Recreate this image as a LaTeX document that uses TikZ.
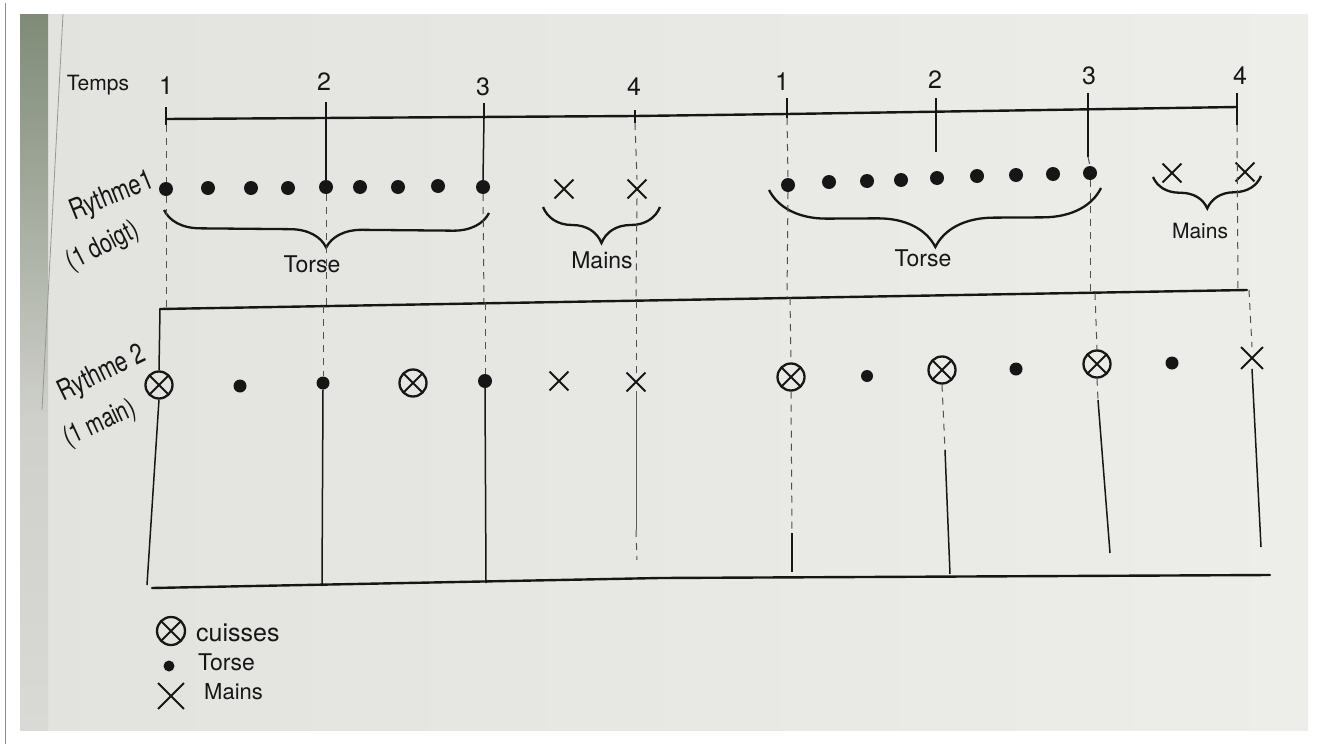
\documentclass[tikz,border=0pt]{standalone}
\usepackage{fontspec}
\setmainfont{TeX Gyre Heros}
\usetikzlibrary{decorations.pathreplacing,shapes.misc}
\definecolor{ink}{HTML}{161616}
\definecolor{paperL}{HTML}{E2E2DE}
\definecolor{paperR}{HTML}{EDEDEA}
\definecolor{strip}{HTML}{7F8B77}
\definecolor{stripB}{HTML}{CFD0CB}
\definecolor{frameline}{HTML}{8C8C8C}
\begin{document}
\begin{tikzpicture}[x=1pt,y=-1pt,
  axis/.style={draw=ink, line width=2.4pt, line cap=round},
  tickmark/.style={draw=ink, line width=2.2pt},
  solidguide/.style={draw=ink, line width=1.5pt},
  dashguide/.style={draw=ink!75, line width=1pt, dash pattern=on 7pt off 6pt},
  tdot/.style={circle, fill=ink, inner sep=0pt, minimum size=#1},
  tdot/.default=14pt,
  hand/.style={cross out, draw=ink, line width=1.9pt, inner sep=0pt, minimum size=#1},
  hand/.default=17pt,
  thigh/.style={circle, draw=ink, line width=2.3pt, inner sep=0pt, minimum size=#1,
    path picture={\draw[ink, line width=1.9pt]
      (path picture bounding box.south west) -- (path picture bounding box.north east)
      (path picture bounding box.north west) -- (path picture bounding box.south east);}},
  thigh/.default=27pt,
  num/.style={font=\fontsize{25}{27}\selectfont, text=ink, inner sep=0pt},
  lbl/.style={font=\fontsize{#1}{#1}\selectfont, text=ink, inner sep=0pt},
  lbl/.default=23,
  brc/.style={draw=ink, line width=2.3pt, decorate, decoration={brace, amplitude=#1, aspect=0.5}},
]
% ---------- photo background ----------
\fill[white] (0,0) rectangle (1318,744);
\draw[frameline, line width=1pt] (5,3) -- (5,744);
\shade[left color=paperL, right color=paperR] (20,14) rectangle (1308,730);
\shade[top color=strip, bottom color=stripB] (20,14) rectangle (48,420);
\shade[top color=stripB, bottom color=paperL!96!black] (20,420) rectangle (48,730);
\draw[ink!45, line width=0.8pt] (63,14) -- (42,410);

% ---------- time axis ----------
\node[lbl=21] (temps) at (98,85) {Temps};
\coordinate (T1) at (166,119);
\coordinate (T2) at (326,118);
\coordinate (T3) at (484,117);
\coordinate (T4) at (635,116);
\coordinate (T5) at (787,114);
\coordinate (T6) at (936,112);
\coordinate (T7) at (1088,109);
\coordinate (T8) at (1237,107);
\draw[axis] (T1) -- (T4) -- (T5) -- (T8);

\node[num] (n1) at (166,86) {1};
\node[num] (n2) at (324,82) {2};
\node[num] (n3) at (483,87) {3};
\node[num] (n4) at (634,87) {4};
\node[num] (n5) at (782,82) {1};
\node[num] (n6) at (935,80) {2};
\node[num] (n7) at (1089,76) {3};
\node[num] (n8) at (1240,76) {4};

% ---------- separator and bottom lines ----------
\coordinate (S1) at (160,309);
\coordinate (S2) at (1247,290);
\draw[axis] (S1) -- (S2);
\coordinate (B1) at (152,588);
\coordinate (Bm) at (660,578);
\coordinate (B2) at (1270,575);
\draw[axis] (B1) -- (Bm) -- (B2);

% points on the separator, straight below the ticks / marks
\coordinate (P1) at (166,309);
\coordinate (P2) at (326,306);
\coordinate (P3) at (484,303);
\coordinate (P4) at (636,301);
\coordinate (P5) at (787,298);
\coordinate (P7) at (1090,293);
\coordinate (P8) at (1238,290);
\coordinate (U3) at (323,306);
\coordinate (U5) at (485,303);
\coordinate (U7) at (636,301);
\coordinate (U8) at (790,298);
\coordinate (U12) at (1095,293);
\coordinate (U14) at (1249,290);

% ---------- row 1 marks ----------
\foreach \i/\x/\y in {1/166/189, 2/208/188, 3/251/188, 4/288/188, 5/326/187,
                      6/360/187, 7/398/187, 8/438/186, 9/483/187}
  \node[tdot] (a\i) at (\x,\y) {};
\node[hand] (ax1) at (564,189) {};
\node[hand] (ax2) at (637,189) {};
\foreach \i/\x/\y in {1/788/185, 2/829/182, 3/867/181, 4/901/180, 5/937/178,
                      6/977/176, 7/1016/175, 8/1053/174, 9/1090/173}
  \node[tdot] (b\i) at (\x,\y) {};
\node[hand] (bx1) at (1172,173) {};
\node[hand] (bx2) at (1245,172) {};

% braces
\coordinate (br1r) at (489,213); \coordinate (br1l) at (164,210);
\draw[brc=36] (br1r) -- (br1l);
\node[lbl] (torse1) at (312,264) {Torse};
\coordinate (br2r) at (660,207); \coordinate (br2l) at (543,207);
\draw[brc=36] (br2r) -- (br2l);
\node[lbl] (mains1) at (602,260) {Mains};
\coordinate (br3r) at (1101,188); \coordinate (br3l) at (769,190);
\draw[brc=58] (br3r) -- (br3l);
\node[lbl] (torse2) at (923,258) {Torse};
\coordinate (br4r) at (1261,176); \coordinate (br4l) at (1153,177);
\draw[brc=32] (br4r) -- (br4l);
\node[lbl=21] (mains2) at (1200,231) {Mains};

% row 1 labels
\node[lbl=22, rotate=22] (rl1) at (112,197) {\scalebox{1}[1.3]{Rythme1}};
\node[lbl=21, rotate=27] (rl1b) at (103,247) {\scalebox{1}[1.3]{(1 doigt)}};

% ---------- row 1 guides ----------
\draw[tickmark] ([yshift=12pt]T1) -- ([yshift=-6pt]T1);
\draw[tickmark] ([yshift=16pt]T2) -- ([yshift=-2pt]T2);
\draw[tickmark] ([yshift=14pt]T3) -- ([yshift=-2pt]T3);
\draw[tickmark] ([yshift=6pt]T4) -- ([yshift=-7pt]T4);
\draw[tickmark] ([yshift=16pt]T5) -- ([yshift=-4pt]T5);
\draw[tickmark] ([yshift=14pt]T6) -- ([yshift=-2pt]T6);
\draw[tickmark] ([yshift=16pt]T7) -- ([yshift=-2pt]T7);
\draw[tickmark] ([yshift=14pt]T8) -- ([yshift=-18pt]T8);
\draw[solidguide] (T2) -- (a5.north);
\draw[solidguide] (T3) -- (a9.north);
\coordinate (T6e) at (936,152);
\draw[solidguide] (T6) -- (T6e);
\coordinate (T7e) at (1088,157);
\draw[solidguide] (T7) -- (T7e);
\draw[dashguide] ([yshift=-6pt]T1) -- (a1.north);
\draw[dashguide] (a1.south) -- (P1);
\draw[dashguide] (a5.south) -- (P2);
\draw[dashguide] (a9.south) -- (P3);
\draw[dashguide] ([yshift=-7pt]T4) -- (ax2.north);
\draw[dashguide] (ax2.south) -- (P4);
\draw[dashguide] ([yshift=-4pt]T5) -- (b1.north);
\draw[dashguide] (b1.south) -- (P5);
\draw[dashguide] (T7e) -- (b9.north);
\draw[dashguide] (b9.south) -- (P7);
\draw[dashguide] ([yshift=-18pt]T8) -- (P8);

% ---------- row 2 marks ----------
\node[thigh] (r1) at (159,385) {};
\node[tdot=13pt] (r2) at (240,386) {};
\node[tdot=13pt] (r3) at (323,383) {};
\node[thigh] (r4) at (413,383) {};
\node[tdot=14pt] (r5) at (485,381) {};
\node[hand] (r6) at (559,381) {};
\node[hand] (r7) at (636,382) {};
\node[thigh] (r8) at (791,377) {};
\node[tdot=12pt] (r9) at (867,376) {};
\node[thigh] (r10) at (942,370) {};
\node[tdot=13pt] (r11) at (1016,369) {};
\node[thigh] (r12) at (1097,364) {};
\node[tdot=13pt] (r13) at (1172,363) {};
\node[hand=20pt] (r14) at (1252,358) {};

\node[lbl=22, rotate=26] (rl2) at (102,374) {\scalebox{1}[1.3]{Rythme 2}};
\node[lbl=21, rotate=25] (rl2b) at (100,424) {\scalebox{1}[1.3]{(1 main)}};

% ---------- row 2 guides ----------
\coordinate (Q1) at (147,585);
\coordinate (Q3) at (322,586);
\coordinate (Q5) at (486,583);
\coordinate (Q7a) at (636,530); \coordinate (Q7) at (637,560);
\coordinate (Q8a) at (792,533); \coordinate (Q8) at (792,572);
\coordinate (Q10a) at (945,450); \coordinate (Q10) at (950,574);
\coordinate (Q12a) at (1098,400); \coordinate (Q12) at (1110,553);
\coordinate (Q14) at (1261,547);
\draw[solidguide] (S1) -- (r1.north);
\draw[solidguide] (r1.south) -- (Q1);
\draw[dashguide] (U3) -- (r3.north);
\draw[solidguide] (r3.south) -- (Q3);
\draw[dashguide] (U5) -- (r5.north);
\draw[solidguide] (r5.south) -- (Q5);
\draw[dashguide] (U7) -- (r7.north);
\draw[draw=ink!70, line width=1pt] (r7.south) -- (Q7a);
\draw[dashguide] (Q7a) -- (Q7);
\draw[dashguide] (U8) -- (r8.north);
\draw[dashguide] (r8.south) -- (Q8a);
\draw[solidguide] (Q8a) -- (Q8);
\draw[dashguide] (r10.south) -- (Q10a);
\draw[solidguide] (Q10a) -- (Q10);
\draw[dashguide] (U12) -- (r12.north);
\draw[dashguide] (r12.south) -- (Q12a);
\draw[solidguide] (Q12a) -- (Q12);
\draw[dashguide] (U14) -- (r14.north);
\draw[solidguide] (r14.south) -- (Q14);

% ---------- legend ----------
\node[thigh=28pt] (lg1) at (171,631) {};
\node[lbl=25, anchor=west] (lt1) at (196,633) {cuisses};
\node[tdot=11pt] (lg2) at (169,666) {};
\node[lbl=23, anchor=west] (lt2) at (198,662) {Torse};
\node[hand=24pt] (lg3) at (171,696) {};
\node[lbl=22, anchor=west] (lt3) at (204,692) {Mains};

\useasboundingbox (0,0) rectangle (1318,744);
\end{tikzpicture}
\end{document}
